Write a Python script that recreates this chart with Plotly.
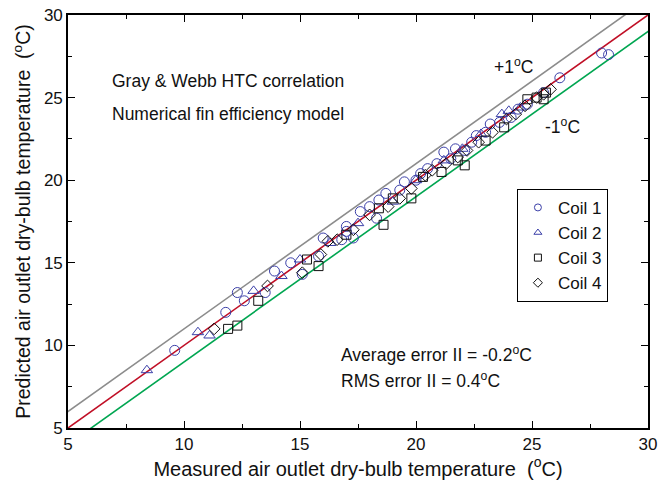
import plotly.graph_objects as go

coil1_x = [9.6, 11.8, 12.3, 12.6, 13.9, 13.5, 14.6, 15.1, 15.8, 16.0, 16.8, 17.0, 17.0, 17.3, 17.6, 18.0, 18.3, 18.4, 18.7, 19.3, 19.5, 20.0, 20.2, 20.5, 20.9, 21.2, 21.5, 21.7, 22.1, 22.4, 22.6, 23.0, 23.2, 23.6, 24.1, 24.4, 24.8, 25.5, 26.2, 28.0, 28.3]
coil1_y = [9.7, 12.0, 13.2, 12.7, 14.5, 13.2, 15.0, 14.3, 15.4, 16.5, 16.4, 17.2, 16.9, 16.5, 18.1, 18.4, 17.7, 18.8, 19.2, 19.4, 19.9, 20.0, 20.4, 20.7, 21.0, 21.7, 21.3, 21.9, 21.8, 22.3, 22.7, 22.9, 23.4, 23.5, 23.8, 24.3, 24.6, 25.3, 26.2, 27.7, 27.6]

coil2_x = [8.4, 10.6, 11.1, 13.0, 14.2, 15.0, 16.3, 17.5, 19.0, 20.0, 21.2, 22.0, 22.8, 23.7, 24.0, 24.5]
coil2_y = [8.5, 10.8, 10.6, 13.3, 14.2, 15.2, 16.2, 17.4, 18.7, 20.0, 21.2, 21.9, 22.8, 24.0, 24.2, 24.4]

coil3_x = [11.9, 12.3, 13.2, 15.3, 15.8, 17.0, 18.6, 18.4, 19.0, 19.8, 20.3, 21.1, 21.8, 22.1, 23.0, 23.8, 24.8, 25.2, 25.5, 25.6]
coil3_y = [11.0, 11.2, 12.7, 15.2, 14.8, 16.7, 17.3, 18.3, 18.9, 18.9, 20.2, 20.5, 21.2, 20.9, 22.4, 23.2, 24.9, 25.0, 24.9, 25.3]

coil4_x = [11.3, 13.6, 15.1, 15.9, 16.2, 16.6, 17.3, 18.0, 18.8, 19.3, 19.8, 20.4, 20.7, 21.3, 21.8, 22.2, 22.7, 23.3, 23.9, 24.3, 24.7, 25.2, 25.5, 25.8]
coil4_y = [11.0, 13.6, 14.4, 15.5, 16.3, 16.4, 17.0, 17.9, 18.4, 18.9, 19.5, 20.3, 20.6, 21.0, 21.4, 21.8, 22.3, 22.9, 23.7, 24.0, 24.5, 25.0, 25.2, 25.5]

line_x = [4, 31]
offsets = [1, 0, -1]
line_colors = ["#8c8c8c", "#c00f26", "#00a651"]

tick_vals = [5, 10, 15, 20, 25, 30]

fig = go.Figure()

for off, col in zip(offsets, line_colors):
    fig.add_trace(go.Scatter(x=line_x, y=[v + off for v in line_x], mode="lines",
                             line=dict(color=col, width=1.6), showlegend=False, hoverinfo="skip"))

blue = "#3b3fa8"
series = [
    ("Coil 1", coil1_x, coil1_y, "circle-open", blue, 10),
    ("Coil 2", coil2_x, coil2_y, "triangle-up-open", blue, 10),
    ("Coil 3", coil3_x, coil3_y, "square-open", "#111111", 9),
    ("Coil 4", coil4_x, coil4_y, "diamond-open", "#111111", 9),
]
for name, xs, ys, sym, col, sz in series:
    fig.add_trace(go.Scatter(x=xs, y=ys, mode="markers", name=name, showlegend=False,
                             marker=dict(symbol=sym, size=sz, color=col, line=dict(width=1, color=col))))
# legend entries with smaller symbols, as in the reference
for name, xs, ys, sym, col, sz in series:
    fig.add_trace(go.Scatter(x=[None], y=[None], mode="markers", name=name, showlegend=True,
                             marker=dict(symbol=sym, size=7, color=col, line=dict(width=1, color=col))))

font = "Liberation Sans, Arial, sans-serif"
ann_font = dict(family=font, size=17.5, color="#111111")
annotations = [
    dict(x=6.8, y=26.0, text="Gray & Webb HTC correlation", xanchor="left"),
    dict(x=6.8, y=24.0, text="Numerical fin efficiency model", xanchor="left"),
    dict(x=24.2, y=26.9, text="+1<sup>o</sup>C", xanchor="center"),
    dict(x=26.3, y=23.3, text="-1<sup>o</sup>C", xanchor="center"),
    dict(x=16.7, y=9.5, text="Average error II = -0.2<sup>o</sup>C", xanchor="left"),
    dict(x=16.7, y=7.9, text="RMS error II = 0.4<sup>o</sup>C", xanchor="left"),
]
for a in annotations:
    fig.add_annotation(x=a["x"], y=a["y"], text=a["text"], xanchor=a["xanchor"], yanchor="middle",
                       showarrow=False, font=ann_font)

axis_common = dict(range=[5, 30], tickvals=tick_vals, showgrid=False, zeroline=False,
                   showline=True, linecolor="black", linewidth=1.6, mirror="ticks",
                   ticks="inside", ticklen=7, tickcolor="black", tickwidth=1,
                   automargin=False,
                   tickfont=dict(family=font, size=17, color="#111111"),
                   minor=dict(dtick=2.5, tick0=5, ticks="inside", ticklen=4, tickcolor="black", showgrid=False))

fig.update_layout(
    width=658, height=486,
    margin=dict(l=68, r=10, t=15, b=58),
    plot_bgcolor="white", paper_bgcolor="white",
    font=dict(family=font, color="#111111"),
    xaxis=dict(**axis_common,
               title=dict(text="Measured air outlet dry-bulb temperature  (<sup>o</sup>C)",
                          font=dict(family=font, size=20), standoff=2)),
    yaxis=dict(**axis_common,
               title=dict(text="Predicted air outlet dry-bulb temperature  (<sup>o</sup>C)",
                          font=dict(family=font, size=19.5), standoff=8)),
    legend=dict(x=0.774, y=0.579, xanchor="left", yanchor="top",
                bordercolor="black", borderwidth=1, bgcolor="white",
                font=dict(family=font, size=17, color="#111111"),
                itemsizing="trace", itemwidth=30),
)

fig.write_html("out.html")
